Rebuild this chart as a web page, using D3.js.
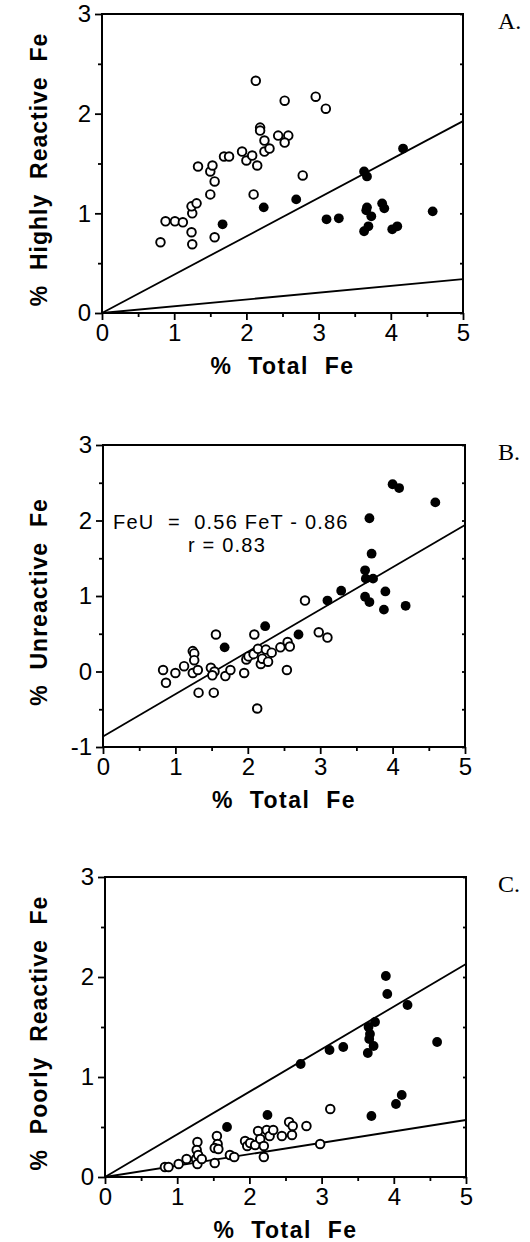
<!DOCTYPE html>
<html>
<head>
<meta charset="utf-8">
<script src="https://cdn.jsdelivr.net/npm/d3@7"></script>
<style>
  html, body { margin: 0; padding: 0; background: #fff; }
  svg { display: block; }
</style>
</head>
<body>
<script>
// ---- Data: % Total Fe (x) against each iron fraction (y) ----
const xTicks = [0, 1, 2, 3, 4, 5];
const xMinor = [0.5, 1.5, 2.5, 3.5, 4.5];

// A. Highly reactive Fe
const aOpen = [
  [0.81,0.71],[0.88,0.92],[1.01,0.92],[1.12,0.91],[1.24,0.81],[1.25,0.69],[1.25,1.00],
  [1.24,1.07],[1.31,1.10],[1.33,1.47],[1.50,1.19],[1.56,0.76],[1.56,1.32],[1.50,1.42],
  [1.53,1.48],[1.69,1.57],[1.76,1.57],[1.94,1.62],[2.00,1.53],[2.08,1.58],[2.15,1.48],
  [2.10,1.19],[2.13,2.33],[2.19,1.86],[2.19,1.83],[2.25,1.73],[2.25,1.62],[2.32,1.65],
  [2.53,2.13],[2.44,1.78],[2.58,1.78],[2.53,1.71],[2.96,2.17],[3.10,2.05],[2.78,1.38]
];
const aFilled = [
  [1.67,0.89],[2.24,1.06],[2.69,1.14],[3.11,0.94],[3.28,0.95],[3.63,1.42],[3.67,1.37],
  [4.17,1.65],[3.67,1.06],[3.66,1.03],[3.73,0.97],[3.69,0.87],[3.63,0.82],[3.88,1.10],
  [3.91,1.05],[4.02,0.84],[4.09,0.87],[4.58,1.02]
];
const aSlopes = [0.385, 0.068];

// B. Unreactive Fe
const bOpen = [
  [0.83,0.02],[0.87,-0.15],[1.00,-0.02],[1.12,0.07],[1.24,0.27],[1.26,0.24],[1.26,0.15],
  [1.24,-0.02],[1.31,0.02],[1.32,-0.28],[1.53,-0.28],[1.49,0.05],[1.54,0.00],[1.51,-0.05],
  [1.56,0.49],[1.69,-0.06],[1.76,0.02],[1.95,-0.02],[1.98,0.16],[2.01,0.20],[2.09,0.49],
  [2.08,0.23],[2.14,0.30],[2.18,0.10],[2.13,-0.49],[2.20,0.17],[2.25,0.29],[2.28,0.13],
  [2.33,0.25],[2.45,0.32],[2.54,0.02],[2.55,0.39],[2.58,0.33],[2.79,0.94],[2.98,0.52],
  [3.10,0.45]
];
const bFilled = [
  [1.68,0.32],[2.24,0.60],[2.70,0.49],[3.10,0.94],[3.29,1.07],[3.62,1.34],[3.63,1.23],
  [3.73,1.23],[3.68,2.03],[3.71,1.56],[3.62,0.99],[3.68,0.92],[3.90,1.06],[3.88,0.82],
  [4.18,0.87],[4.00,2.48],[4.09,2.43],[4.59,2.24]
];
const bFit = { slope: 0.56, intercept: -0.86 };
const bFitLabel = ["FeU  =  0.56 FeT - 0.86", "r = 0.83"];

// C. Poorly reactive Fe
const cOpen = [
  [0.83,0.10],[0.88,0.10],[1.02,0.13],[1.13,0.18],[1.26,0.18],[1.28,0.13],[1.28,0.35],
  [1.27,0.27],[1.29,0.22],[1.34,0.18],[1.52,0.14],[1.55,0.41],[1.56,0.33],[1.52,0.29],
  [1.57,0.28],[1.73,0.22],[1.79,0.20],[1.94,0.36],[1.97,0.31],[2.01,0.34],[2.08,0.32],
  [2.12,0.46],[2.15,0.38],[2.20,0.31],[2.20,0.20],[2.24,0.47],[2.28,0.41],[2.33,0.47],
  [2.45,0.41],[2.55,0.55],[2.60,0.51],[2.59,0.42],[2.79,0.51],[2.98,0.33],[3.12,0.68]
];
const cFilled = [
  [1.69,0.50],[2.25,0.62],[2.71,1.13],[3.11,1.27],[3.30,1.30],[3.64,1.24],[3.65,1.50],
  [3.67,1.43],[3.66,1.38],[3.72,1.31],[3.74,1.55],[3.89,2.01],[3.91,1.83],[4.19,1.72],
  [4.60,1.35],[4.11,0.82],[4.03,0.73],[3.69,0.61]
];
const cSlopes = [0.426, 0.114];

// ---- Layout ----
const W = 530, H = 1242;
const SANS = "'Liberation Sans', Arial, Helvetica, sans-serif";
const SERIF = "'Liberation Serif', 'Times New Roman', serif";

const panels = [
  { letter: "A.", yTitle: "% Highly Reactive Fe", left: 102, right: 463, top: 14, bottom: 313,
    yDomain: [0, 3], yTicks: [0, 1, 2, 3], yMinor: [0.5, 1.5, 2.5],
    open: aOpen, filled: aFilled, slopes: aSlopes },
  { letter: "B.", yTitle: "% Unreactive Fe", left: 103, right: 465, top: 445, bottom: 747,
    yDomain: [-1, 3], yTicks: [-1, 0, 1, 2, 3], yMinor: [-0.5, 0.5, 1.5, 2.5],
    open: bOpen, filled: bFilled, fit: bFit, fitLabel: bFitLabel },
  { letter: "C.", yTitle: "% Poorly Reactive Fe", left: 105, right: 466, top: 877, bottom: 1177,
    yDomain: [0, 3], yTicks: [0, 1, 2, 3], yMinor: [0.5, 1.5, 2.5],
    open: cOpen, filled: cFilled, slopes: cSlopes }
];

const svg = d3.select("body").append("svg")
  .attr("width", W).attr("height", H)
  .attr("viewBox", `0 0 ${W} ${H}`);

panels.forEach(p => {
  const g = svg.append("g");
  const x = d3.scaleLinear().domain([0, 5]).range([p.left, p.right]);
  const y = d3.scaleLinear().domain(p.yDomain).range([p.bottom, p.top]);

  // reference lines (through the origin) and the regression line
  const lines = [];
  (p.slopes || []).forEach(s => lines.push([[0, 0], [5, 5 * s]]));
  if (p.fit) lines.push([[0, p.fit.intercept], [5, p.fit.intercept + 5 * p.fit.slope]]);
  const lineGen = d3.line().x(d => x(d[0])).y(d => y(d[1]));
  g.selectAll("path.ref").data(lines).join("path")
    .attr("class", "ref")
    .attr("d", lineGen)
    .attr("fill", "none").attr("stroke", "#000").attr("stroke-width", 1.8);

  // frame
  g.append("rect")
    .attr("x", p.left).attr("y", p.top)
    .attr("width", p.right - p.left).attr("height", p.bottom - p.top)
    .attr("fill", "none").attr("stroke", "#000").attr("stroke-width", 2);

  // bottom axis: major + minor ticks
  const xAxis = g.append("g").attr("transform", `translate(0,${p.bottom})`)
    .call(d3.axisBottom(x).tickValues(xTicks).tickSize(7).tickPadding(4).tickFormat(d => String(d)));
  g.append("g").attr("transform", `translate(0,${p.bottom})`)
    .call(d3.axisBottom(x).tickValues(xMinor).tickSize(4).tickFormat(""));

  // left axis: major + minor ticks
  g.append("g").attr("transform", `translate(${p.left},0)`)
    .call(d3.axisLeft(y).tickValues(p.yTicks).tickSize(7).tickPadding(4).tickFormat(d => String(d)));
  g.append("g").attr("transform", `translate(${p.left},0)`)
    .call(d3.axisLeft(y).tickValues(p.yMinor).tickSize(4).tickFormat(""));

  // small inward ticks on the right edge
  g.append("g").attr("transform", `translate(${p.right},0)`)
    .call(d3.axisRight(y).tickValues(p.yMinor.concat(p.yTicks)).tickSize(-3).tickFormat(""));

  g.selectAll(".domain").remove();
  g.selectAll(".tick line").attr("stroke", "#000").attr("stroke-width", 1.8);
  g.selectAll(".tick text")
    .attr("fill", "#000")
    .style("font-family", SANS).style("font-size", "24px");
  xAxis.selectAll(".tick text").attr("dy", "0.71em");

  // points
  g.selectAll("circle.open").data(p.open).join("circle")
    .attr("class", "open")
    .attr("cx", d => x(d[0])).attr("cy", d => y(d[1])).attr("r", 4.3)
    .attr("fill", "#fff").attr("stroke", "#000").attr("stroke-width", 1.9);
  g.selectAll("circle.filled").data(p.filled).join("circle")
    .attr("class", "filled")
    .attr("cx", d => x(d[0])).attr("cy", d => y(d[1])).attr("r", 4.9)
    .attr("fill", "#000");

  // regression label
  if (p.fitLabel) {
    g.append("text")
      .attr("x", x(0) + 10).attr("y", y(2) + 8)
      .style("font-family", SANS).style("font-size", "20px")
      .style("letter-spacing", "1.2px").style("white-space", "pre")
      .text(p.fitLabel[0]);
    g.append("text")
      .attr("x", x(0) + 85).attr("y", y(2) + 31)
      .style("font-family", SANS).style("font-size", "20px")
      .style("letter-spacing", "1.2px").style("white-space", "pre")
      .text(p.fitLabel[1]);
  }

  // axis titles
  g.append("text")
    .attr("x", (p.left + p.right) / 2).attr("y", p.bottom + 61)
    .attr("text-anchor", "middle")
    .style("font-family", SANS).style("font-size", "23px").style("font-weight", "bold")
    .style("letter-spacing", "1.5px").style("white-space", "pre")
    .text("%  Total  Fe");

  g.append("text")
    .attr("transform", `translate(47,${(p.top + p.bottom) / 2 + 6}) rotate(-90)`)
    .attr("text-anchor", "middle")
    .style("font-family", SANS).style("font-size", "23px").style("font-weight", "bold")
    .style("letter-spacing", "1px").style("white-space", "pre")
    .text(p.yTitle.replace(/ /g, "  "));

  // panel letter
  g.append("text")
    .attr("x", 498).attr("y", p.top + 15)
    .style("font-family", SERIF).style("font-size", "24px")
    .text(p.letter);
});
</script>
</body>
</html>
